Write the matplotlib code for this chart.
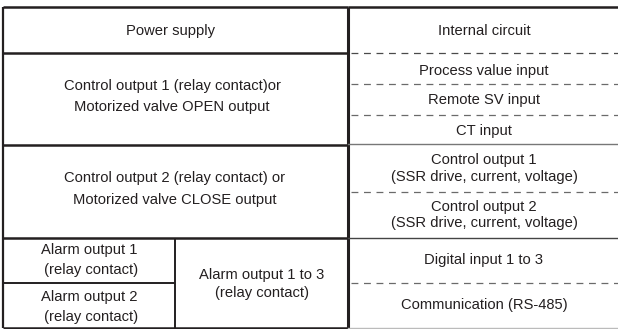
import matplotlib
matplotlib.use("Agg")
import matplotlib.pyplot as plt

plt.rcParams['font.family'] = ['Liberation Sans', 'DejaVu Sans']

INK = '#231f20'

# cell labels (left block: terminals, right block: internal circuit)
left_labels = [
    "Power supply",
    "Control output 1 (relay contact)or\nMotorized valve OPEN output",
    "Control output 2 (relay contact) or\nMotorized valve CLOSE output",
    "Alarm output 1\n (relay contact)",
    "Alarm output 2\n (relay contact)",
    "Alarm output 1 to 3\n(relay contact)",
]
right_labels = [
    "Internal circuit",
    "Process value input",
    "Remote SV input",
    "CT input",
    "Control output 1\n(SSR drive, current, voltage)",
    "Control output 2\n(SSR drive, current, voltage)",
    "Digital input 1 to 3",
    "Communication (RS-485)",
]

# layout in pixels (y grows downward)
X0, XA, XM, X1 = 3, 175, 348, 618
Y_TOP, Y_BOT = 7, 328
left_rows = [7, 53, 145, 238, 328]
right_dashed = [53, 84, 115, 192, 283]

left_pos = [(171, 31), (172, 96.5), (175, 189), (89, 260), (89, 307), (262, 284)]
left_ls = [1.0, 1.64, 1.68, 1.54, 1.54, 1.45]
right_pos = [(484, 31), (484, 71), (484, 100), (484, 131),
             (484, 168.5), (484, 215), (484, 260), (484, 305)]
right_ls = 1.25

fig = plt.figure(figsize=(6.18, 3.29), dpi=100)
ax = fig.add_axes([0, 0, 1, 1])
ax.set_xlim(0, 618)
ax.set_ylim(329, 0)
ax.axis('off')

# outer and left block lines
ax.plot([X0, X0], [Y_TOP, Y_BOT], color=INK, lw=1.6, solid_capstyle='butt')
ax.plot([XM, XM], [Y_TOP, Y_BOT], color=INK, lw=2.2, solid_capstyle='butt')
ax.plot([XA, XA], [238, Y_BOT], color=INK, lw=1.4, solid_capstyle='butt')
for y in left_rows:
    ax.plot([X0, XM], [y, y], color=INK, lw=1.8, solid_capstyle='butt')
ax.plot([X0, XA], [283, 283], color=INK, lw=1.4, solid_capstyle='butt')

# right block lines
ax.plot([XM, X1], [Y_TOP, Y_TOP], color=INK, lw=1.8, solid_capstyle='butt')
for i, y in enumerate(right_dashed):
    ax.plot([XM + 3, X1], [y, y], color='#4a4a4a' if i == 0 else '#6a6a6a',
            lw=0.9, dashes=(5.5, 4.5))
ax.plot([XM, X1], [144, 144], color='#777777', lw=1.0)
ax.plot([XM, X1], [238, 238], color='#444444', lw=1.0)
ax.plot([XM, X1], [Y_BOT, Y_BOT], color='#bbbbbb', lw=1.0)

for text, (x, y), ls in zip(left_labels, left_pos, left_ls):
    ax.text(x, y, text, ha='center', va='center', fontsize=10.6,
            color=INK, linespacing=ls)
for text, (x, y) in zip(right_labels, right_pos):
    ax.text(x, y, text, ha='center', va='center', fontsize=10.6,
            color=INK, linespacing=right_ls)

fig.savefig("out.png", dpi=100)
